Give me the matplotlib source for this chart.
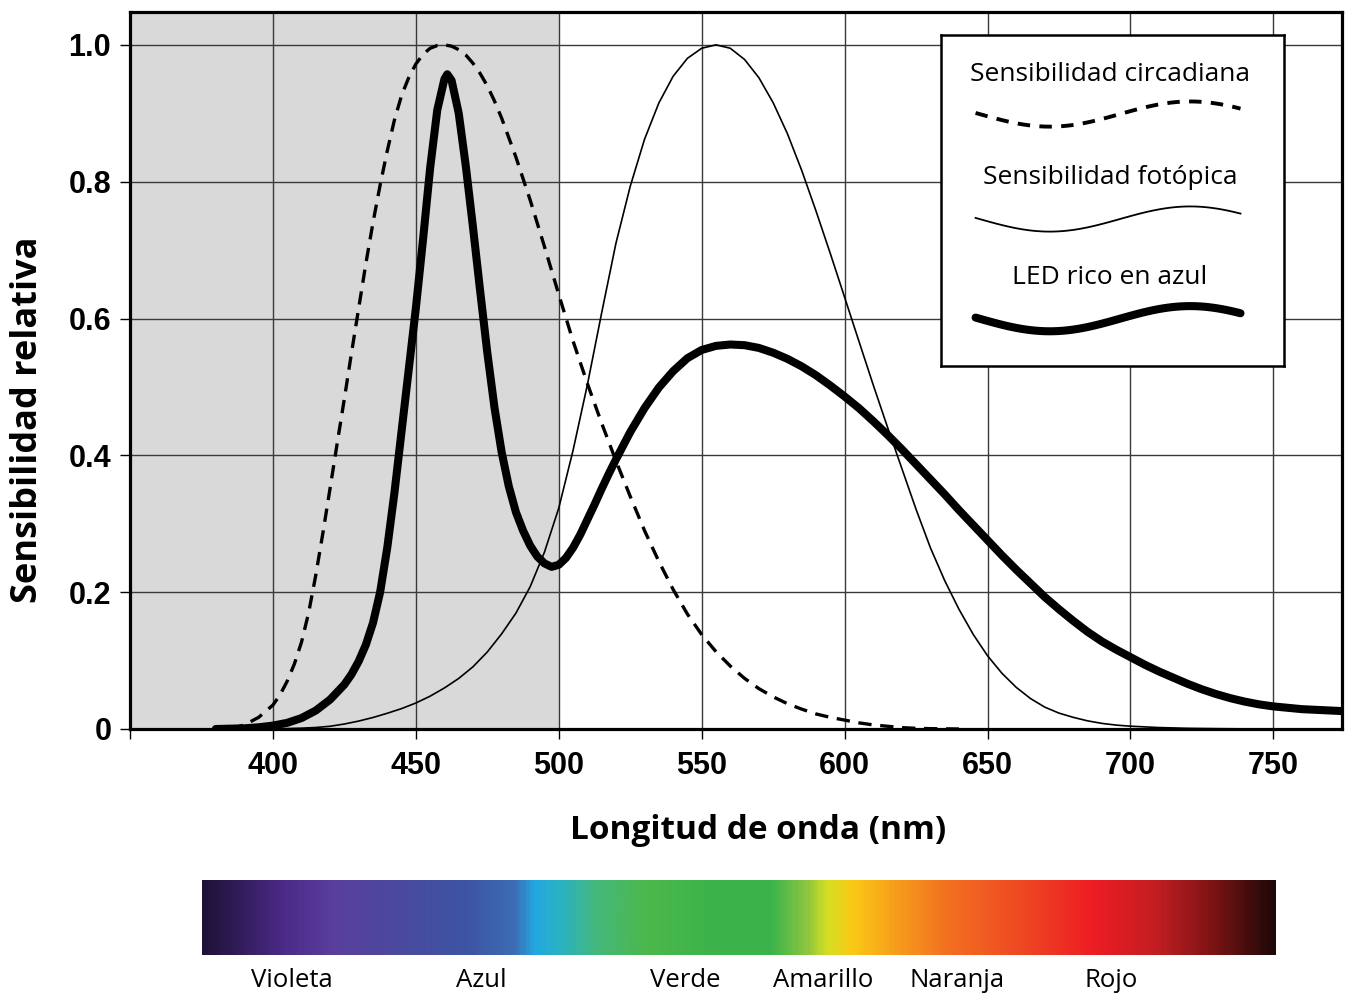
import matplotlib
matplotlib.use("Agg")
import matplotlib.pyplot as plt
import numpy as np
from matplotlib.colors import LinearSegmentedColormap

# circadian sensitivity (dashed)
wl_circ = [385, 390, 395, 400, 402.5, 405, 407.5, 410, 412.5, 415, 417.5, 420, 422.5, 425,
           427.5, 430, 432.5, 435, 437.5, 440, 442.5, 445, 447.5, 450, 452.5, 455, 457.5,
           460, 462.5, 465, 467.5, 470, 472.5, 475, 477.5, 480, 485, 490, 495, 500, 505,
           510, 515, 520, 525, 530, 535, 540, 545, 550, 555, 560, 565, 570, 575, 580,
           585, 590, 595, 600, 605, 610, 615, 620, 625, 630, 640]
circ = [0.0, 0.006, 0.017, 0.035, 0.05, 0.07, 0.095, 0.127, 0.17, 0.225, 0.287, 0.352,
        0.418, 0.483, 0.55, 0.615, 0.68, 0.74, 0.795, 0.845, 0.89, 0.926, 0.952, 0.972,
        0.986, 0.995, 0.999, 1.0, 0.998, 0.993, 0.985, 0.973, 0.958, 0.94, 0.918, 0.893,
        0.836, 0.773, 0.705, 0.635, 0.567, 0.505, 0.447, 0.392, 0.34, 0.29, 0.245,
        0.204, 0.168, 0.138, 0.113, 0.092, 0.074, 0.059, 0.047, 0.037, 0.029, 0.022,
        0.017, 0.013, 0.009, 0.006, 0.004, 0.002, 0.001, 0.0005, 0.0]

# photopic sensitivity V(lambda) (thin line)
wl_phot = [380, 385, 390, 395, 400, 405, 410, 415, 420, 425, 430, 435, 440, 445, 450,
           455, 460, 465, 470, 475, 480, 485, 490, 495, 500, 505, 510, 515, 520, 525,
           530, 535, 540, 545, 550, 555, 560, 565, 570, 575, 580, 585, 590, 595, 600,
           605, 610, 615, 620, 625, 630, 635, 640, 645, 650, 655, 660, 665, 670, 675,
           680, 685, 690, 695, 700, 710, 720, 730, 740, 750, 760, 775]
phot = [0.0, 0.0001, 0.0001, 0.0002, 0.0004, 0.0006, 0.0012, 0.0022, 0.004, 0.0073,
        0.0116, 0.0168, 0.023, 0.0298, 0.038, 0.048, 0.06, 0.0739, 0.091, 0.1126, 0.139,
        0.1693, 0.208, 0.2586, 0.323, 0.4073, 0.503, 0.6082, 0.71, 0.7932, 0.862, 0.9149,
        0.954, 0.9803, 0.995, 1.0, 0.995, 0.9786, 0.952, 0.9154, 0.87, 0.8163, 0.757,
        0.6949, 0.631, 0.5668, 0.503, 0.4412, 0.381, 0.321, 0.265, 0.217, 0.175, 0.1382,
        0.107, 0.0816, 0.061, 0.0446, 0.032, 0.0232, 0.017, 0.0119, 0.0082, 0.0057,
        0.0041, 0.0021, 0.001, 0.0005, 0.0002, 0.0001, 0.0001, 0.0]

# blue-rich LED spectrum (thick line)
wl_led = [380, 385, 390, 395, 400, 405, 410, 415, 420, 425, 427.5, 430, 432.5, 435,
          437.5, 440, 442.5, 445, 447.5, 450, 452.5, 455, 457.5, 460, 461, 462.5, 465,
          467.5, 470, 472.5, 475, 477.5, 480, 482.5, 485, 487.5, 490, 492.5, 495, 497.5,
          500, 502.5, 505, 507.5, 510, 512.5, 515, 517.5, 520, 525, 530, 535, 540, 545,
          550, 555, 560, 565, 570, 575, 580, 585, 590, 595, 600, 605, 610, 615, 620, 625,
          630, 635, 640, 645, 650, 655, 660, 665, 670, 675, 680, 685, 690, 695, 700, 705,
          710, 715, 720, 725, 730, 735, 740, 745, 750, 755, 760, 765, 770, 775]
led = [0.0, 0.0005, 0.001, 0.0025, 0.005, 0.009, 0.016, 0.027, 0.043, 0.065, 0.08, 0.099,
       0.123, 0.155, 0.2, 0.265, 0.345, 0.435, 0.525, 0.615, 0.715, 0.82, 0.905, 0.95,
       0.957, 0.948, 0.9, 0.822, 0.733, 0.64, 0.55, 0.47, 0.405, 0.355, 0.317, 0.29,
       0.268, 0.252, 0.242, 0.237, 0.24, 0.25, 0.265, 0.284, 0.306, 0.328, 0.351, 0.373,
       0.394, 0.434, 0.469, 0.499, 0.523, 0.542, 0.554, 0.56, 0.562, 0.561, 0.557, 0.55,
       0.541, 0.53, 0.517, 0.502, 0.486, 0.469, 0.45, 0.43, 0.409, 0.387, 0.365, 0.343,
       0.32, 0.298, 0.276, 0.254, 0.233, 0.213, 0.193, 0.175, 0.158, 0.142, 0.128,
       0.116, 0.105, 0.094, 0.084, 0.075, 0.066, 0.058, 0.051, 0.045, 0.04, 0.036,
       0.033, 0.031, 0.029, 0.028, 0.027, 0.026]

xticks = [350, 400, 450, 500, 550, 600, 650, 700, 750]
xtick_labels = ["", "400", "450", "500", "550", "600", "650", "700", "750"]
yticks = [0, 0.2, 0.4, 0.6, 0.8, 1.0]
ytick_labels = ["0", "0.2", "0.4", "0.6", "0.8", "1.0"]

legend_labels = ["Sensibilidad circadiana", "Sensibilidad fotópica", "LED rico en azul"]

spectrum_pos = [0.0, 0.074, 0.12, 0.185, 0.25, 0.29, 0.309, 0.335, 0.368, 0.413, 0.479,
                0.531, 0.564, 0.583, 0.606, 0.642, 0.695, 0.773, 0.832, 0.89, 0.943, 1.0]
spectrum_cols = ["#1f1238", "#4b2a88", "#5a3f9c", "#4a4a9e", "#3c56a5", "#3d6db5",
                 "#22a8e0", "#2bb3c0", "#45b87a", "#4cb84c", "#3bb34a", "#3cb44b",
                 "#8dc63f", "#d4e021", "#fbc917", "#f7a21b", "#f37021", "#ee4323",
                 "#ed1c24", "#c41e22", "#7d1415", "#200808"]
color_names = ["Violeta", "Azul", "Verde", "Amarillo", "Naranja", "Rojo"]

W, H = 1349, 996
fig = plt.figure(figsize=(W / 100, H / 100), dpi=100)
ax = fig.add_axes([130 / W, 1 - 729 / H, 1212 / W, 717 / H])
ax.set_xlim(350, 774)
ax.set_ylim(0, 1.048)

ax.axvspan(350, 500, color="#d9d9d9", lw=0, zorder=0)
ax.set_axisbelow(True)
ax.grid(True, color="#3a3a3a", lw=1.0)

ax.plot(wl_circ, circ, color="black", lw=2.4, dashes=(4, 2.6), zorder=3)
ax.plot(wl_phot, phot, color="black", lw=1.2, zorder=3)
ax.plot(wl_led, led, color="black", lw=5.8, solid_capstyle="round",
        solid_joinstyle="round", zorder=4)

ax.set_xticks(xticks)
ax.set_xticklabels(xtick_labels, fontsize=22, fontweight="bold", family="Liberation Sans")
ax.set_yticks(yticks)
ax.set_yticklabels(ytick_labels, fontsize=22, fontweight="bold", family="Liberation Sans")
ax.tick_params(direction="out", length=7.5, width=1.0, pad=6)
ax.tick_params(axis="x", pad=8)
for s in ax.spines.values():
    s.set_linewidth(2.3)
    s.set_zorder(6)

fig.text(28 / W, 1 - 420 / H, "Sensibilidad relativa", rotation=90, ha="center",
         va="center", fontsize=26, fontweight="bold", family="Open Sans")
fig.text(758 / W, 1 - 830 / H, "Longitud de onda (nm)", ha="center", va="center",
         fontsize=24, fontweight="bold", family="Open Sans")

# legend box
leg = ax.inset_axes([633.7, 0.531, 119.9, 0.484], transform=ax.transData, zorder=7)
leg.set_xlim(0, 1)
leg.set_ylim(0, 1)
leg.set_xticks([])
leg.set_yticks([])
leg.set_facecolor("white")
for s in leg.spines.values():
    s.set_linewidth(1.8)
t = np.linspace(0, 1, 100)
wave = np.sin(2 * np.pi * (0.943 * t + 0.486))
x0, x1 = 0.101, 0.874
styles = [dict(lw=2.8, dashes=(3.2, 2.4)), dict(lw=1.3), dict(lw=5.8, solid_capstyle="round")]
text_y = [0.879, 0.568, 0.266]
wave_y = [0.76, 0.443, 0.142]
for lab, ty, wy, st in zip(legend_labels, text_y, wave_y, styles):
    leg.text(0.493, ty, lab, ha="center", va="center", fontsize=19, family="Open Sans")
    leg.plot(x0 + (x1 - x0) * t, wy + 0.038 * wave, color="black", **st)

# visible spectrum bar
sax = fig.add_axes([202 / W, 41 / H, 1074 / W, 75 / H])
cmap = LinearSegmentedColormap.from_list("spec", list(zip(spectrum_pos, spectrum_cols)))
sax.imshow(np.linspace(0, 1, 600)[None, :], aspect="auto", cmap=cmap, extent=[0, 1, 0, 1])
sax.axis("off")
for name, px in zip(color_names, [292, 481, 685, 823, 957, 1111]):
    fig.text(px / W, 1 - 980 / H, name, ha="center", va="center", fontsize=18.5,
             family="Open Sans")

fig.savefig("out.png", dpi=100)
